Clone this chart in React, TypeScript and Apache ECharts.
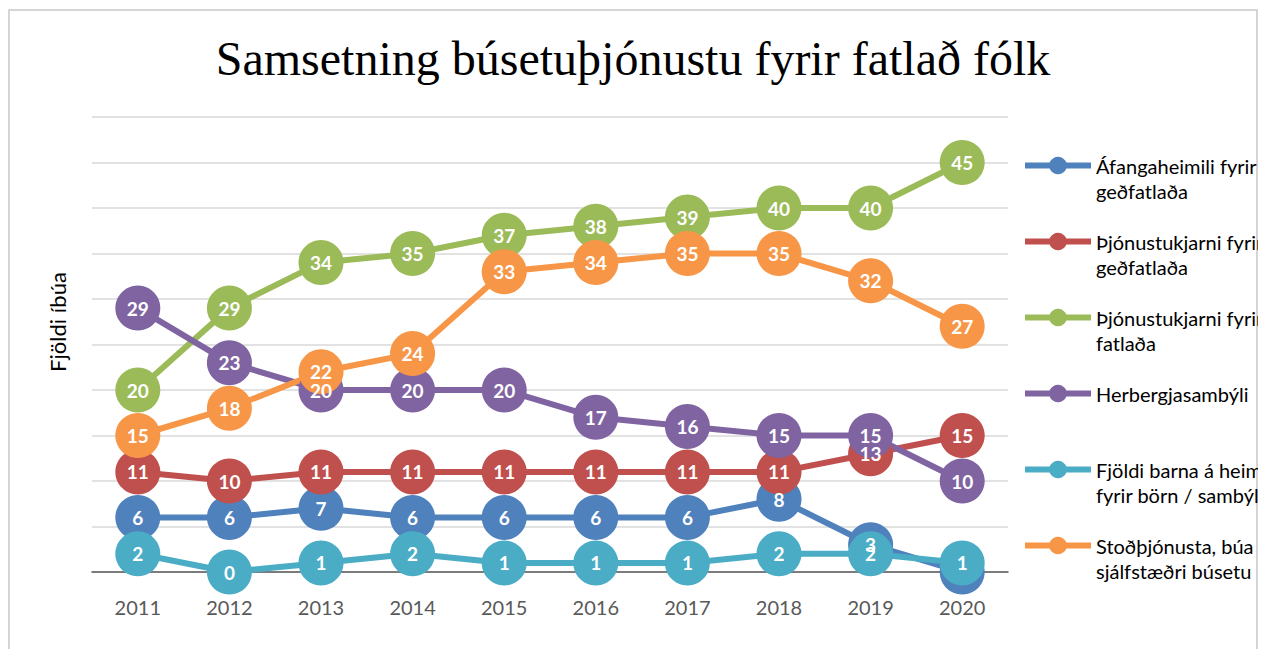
import React, { useEffect, useRef } from "react";
import * as echarts from "echarts";

const years = ["2011", "2012", "2013", "2014", "2015", "2016", "2017", "2018", "2019", "2020"];

const seriesNames = [
  "Áfangaheimili fyrir geðfatlaða",
  "Þjónustukjarni fyrir geðfatlaða",
  "Þjónustukjarni fyrir fatlaða",
  "Herbergjasambýli",
  "Fjöldi barna á heimili fyrir börn / sambýli",
  "Stoðþjónusta, búa í sjálfstæðri búsetu",
];

const legendLines = [
  " \nÁfangaheimili fyrir\ngeðfatlaða",
  " \nÞjónustukjarni fyrir\ngeðfatlaða",
  " \nÞjónustukjarni fyrir\nfatlaða",
  " \nHerbergjasambýli\n ",
  " \nFjöldi barna á heimili\nfyrir börn / sambýli",
  " \nStoðþjónusta, búa í\nsjálfstæðri búsetu",
];

const afangaheimili = [6, 6, 7, 6, 6, 6, 6, 8, 3, 0];
const thjonustukjarniGedfatlada = [11, 10, 11, 11, 11, 11, 11, 11, 13, 15];
const thjonustukjarniFatlada = [20, 29, 34, 35, 37, 38, 39, 40, 40, 45];
const herbergjasambyli = [29, 23, 20, 20, 20, 17, 16, 15, 15, 10];
const fjoldiBarna = [2, 0, 1, 2, 1, 1, 1, 2, 2, 1];
const stodthjonusta = [15, 18, 22, 24, 33, 34, 35, 35, 32, 27];

const allData = [
  afangaheimili,
  thjonustukjarniGedfatlada,
  thjonustukjarniFatlada,
  herbergjasambyli,
  fjoldiBarna,
  stodthjonusta,
];

// labels that are not shown in the reference: [series index, point index]
const hiddenLabels = [[0, 9]];

const colors = ["#4F81BD", "#C0504D", "#9BBB59", "#8064A2", "#4BACC6", "#F79646"];

const title = "Samsetning búsetuþjónustu fyrir fatlað fólk";
const yName = "Fjöldi íbúa";

export default function App() {
  const ref = useRef<HTMLDivElement>(null);

  useEffect(() => {
    if (!ref.current) return;
    const chart = echarts.init(ref.current, null, { renderer: "svg" });

    const lineSeries = allData.map((d, i) => ({
      name: seriesNames[i],
      type: "line",
      data: d,
      color: colors[i],
      symbol: "circle",
      symbolSize: 45,
      showAllSymbol: true,
      lineStyle: { width: 6, color: colors[i] },
      itemStyle: { color: colors[i] },
      label: { show: false },
      emphasis: { disabled: true },
      z: 2,
    }));

    const labelSeries = allData.map((d, i) => ({
      name: "_label_" + i,
      type: "line",
      data: d.map((v, j) =>
        hiddenLabels.some(([s, p]) => s === i && p === j)
          ? { value: v, label: { show: false } }
          : v
      ),
      symbol: "circle",
      symbolSize: 45,
      showAllSymbol: true,
      lineStyle: { width: 0, opacity: 0 },
      itemStyle: { color: "rgba(0,0,0,0)" },
      label: {
        show: true,
        position: "inside",
        color: "#ffffff",
        fontFamily: "Lato",
        fontWeight: "bold",
        fontSize: 19,
      },
      emphasis: { disabled: true },
      silent: true,
      z: 5,
    }));

    chart.setOption({
      animation: false,
      title: {
        text: title,
        left: "center",
        top: 21,
        textStyle: {
          fontFamily: "Liberation Serif",
          fontWeight: "normal",
          fontSize: 48,
          color: "#000000",
        },
      },
      legend: {
        orient: "vertical",
        left: 1014,
        top: 120,
        padding: 0,
        itemGap: 1,
        itemWidth: 66,
        itemHeight: 22,
        data: seriesNames,
        formatter: (n: string) => legendLines[seriesNames.indexOf(n)],
        lineStyle: { width: 6 },
        textStyle: {
          fontFamily: "Lato",
          fontSize: 20,
          color: "#000000",
          lineHeight: 25,
        },
        selectedMode: false,
      },
      grid: { left: 84, right: 250, top: 109, bottom: 77, containLabel: false },
      xAxis: {
        type: "category",
        data: years,
        boundaryGap: true,
        axisLine: { lineStyle: { color: "#595959", width: 1.5 } },
        axisTick: { show: false },
        axisLabel: { color: "#595959", fontFamily: "Lato", fontSize: 20, margin: 25 },
      },
      yAxis: {
        type: "value",
        min: 0,
        max: 50,
        interval: 5,
        axisLabel: { show: false },
        axisLine: { show: false },
        axisTick: { show: false },
        splitLine: { lineStyle: { color: "#d9d9d9", width: 1.5 } },
      },
      graphic: [
        {
          type: "rect",
          shape: { x: 1, y: 2, width: 1248, height: 700 },
          style: { fill: "none", stroke: "#c8c8c8", lineWidth: 1.5 },
          silent: true,
        },
        {
          type: "text",
          x: 49,
          y: 314,
          rotation: Math.PI / 2,
          style: {
            text: yName,
            fontFamily: "Lato",
            fontSize: 22,
            fill: "#000000",
            align: "center",
            verticalAlign: "middle",
          },
        },
      ],
      series: [...lineSeries, ...labelSeries],
    });

    return () => chart.dispose();
  }, []);

  return <div ref={ref} style={{ width: 1250, height: 641 }} />;
}
